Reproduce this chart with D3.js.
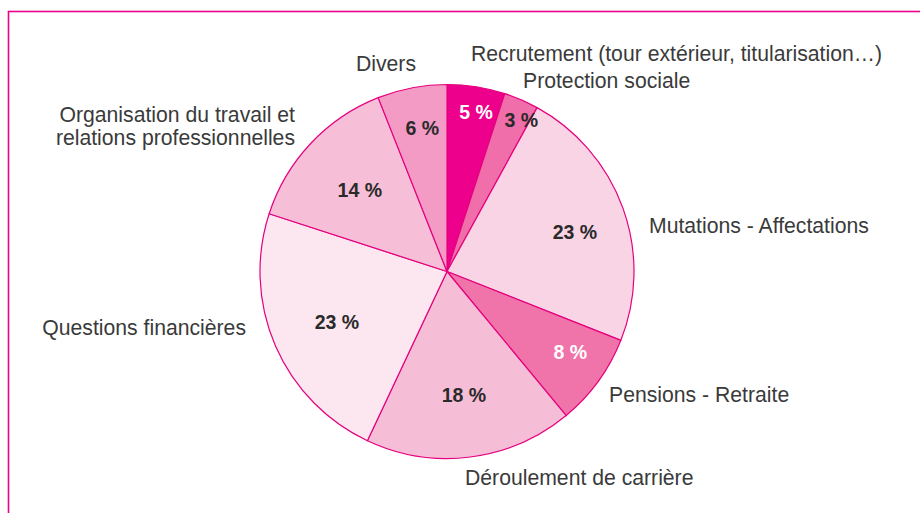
<!DOCTYPE html>
<html>
<head>
<meta charset="utf-8">
<script src="https://cdn.jsdelivr.net/npm/d3@7"></script>
<style>
  body { margin: 0; background: #fff; }
  svg text { font-family: "Liberation Sans", Arial, Helvetica, sans-serif; }
</style>
</head>
<body>
<div id="chart"></div>
<script>
// data, clockwise from 12 o'clock
var categories = ['Recrutement (tour extérieur, titularisation…)', 'Protection sociale',
  'Mutations - Affectations', 'Pensions - Retraite', 'Déroulement de carrière',
  'Questions financières', 'Organisation du travail et|relations professionnelles', 'Divers'];
var shares = [5, 3, 23, 8, 18, 23, 14, 6];
var pctLabels = ['5 %', '3 %', '23 %', '8 %', '18 %', '23 %', '14 %', '6 %'];

// styling / layout, per slice
var fills = ['#ec008c', '#f06ea9', '#f9d4e4', '#f073a9', '#f6bed6', '#fce7f0', '#f6bfd7', '#f39bc4'];
var pctColors = ['#fff', '#2a2a2a', '#2a2a2a', '#fff', '#2a2a2a', '#2a2a2a', '#2a2a2a', '#2a2a2a'];
var pctRadius = [162, 169, 134, 147, 125, 121, 119, 146];
var pctAngleShift = [1.3, 2.7, 2.5, -3, -0.6, -1.1, -0.3, 1.1];
var labelPos = [[471, 61, 'start'], [523, 88, 'start'], [649, 233, 'start'], [609, 402, 'start'],
  [465, 485, 'start'], [246, 335, 'end'], [295, 145, 'end'], [416, 71, 'end']];

var width = 920, height = 513,
    cx = 447, cy = 271.5, radius = 187;

var svg = d3.select('#chart').append('svg')
    .attr('width', width)
    .attr('height', height);

// frame
svg.append('rect')
  .attr('x', 8.5)
  .attr('y', 11.5)
  .attr('width', width + 20)
  .attr('height', height + 20)
  .attr('fill', 'none')
  .attr('stroke', '#ec008c')
  .attr('stroke-width', 1.6);

var pie = d3.pie().sort(null).value(function(d) { return d; });
var arcs = pie(shares);
var arc = d3.arc().innerRadius(0).outerRadius(radius);

var g = svg.append('g')
    .attr('transform', 'translate(' + cx + ',' + cy + ')');

g.selectAll('path.slice')
  .data(arcs)
  .enter().append('path')
    .attr('class', 'slice')
    .attr('d', arc)
    .attr('fill', function(d, i) { return fills[i]; })
    .attr('stroke', '#e6007e')
    .attr('stroke-width', 1.2)
    .attr('stroke-linejoin', 'round');

g.selectAll('text.pct')
  .data(arcs)
  .enter().append('text')
    .attr('class', 'pct')
    .attr('text-anchor', 'middle')
    .attr('dominant-baseline', 'central')
    .attr('transform', function(d, i) {
      var a = (d.startAngle + d.endAngle) / 2 + pctAngleShift[i] * Math.PI / 180;
      return 'translate(' + (pctRadius[i] * Math.sin(a)) + ',' + (-pctRadius[i] * Math.cos(a)) + ')';
    })
    .attr('font-size', 19.5)
    .attr('font-weight', 'bold')
    .attr('fill', function(d, i) { return pctColors[i]; })
    .text(function(d, i) { return pctLabels[i]; });

// category labels
categories.forEach(function(c, i) {
  var p = labelPos[i];
  var lines = c.split('|');
  var t = svg.append('text')
    .attr('x', p[0])
    .attr('y', p[1] - (lines.length - 1) * 23.5)
    .attr('text-anchor', p[2])
    .attr('font-size', 21.2)
    .attr('fill', '#3a3a3a');
  lines.forEach(function(l, k) {
    t.append('tspan')
      .attr('x', p[0])
      .attr('dy', k === 0 ? 0 : 23.5)
      .text(l);
  });
});
</script>
</body>
</html>
